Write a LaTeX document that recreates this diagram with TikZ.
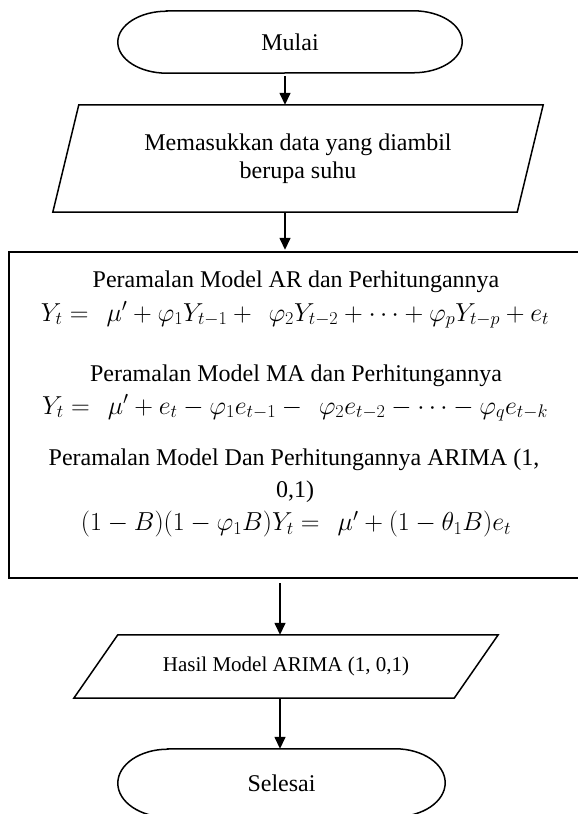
\RequirePackage{fix-cm}
\documentclass[tikz,border=0pt]{standalone}
\usepackage{fontspec}
\setmainfont{Liberation Serif}
\usetikzlibrary{arrows.meta}
\begin{document}
\begin{tikzpicture}[x=1pt,y=1pt,
  shapeline/.style={line width=1.5pt},
  boxline/.style={line width=2.4pt},
  arr/.style={line width=1.5pt,-{Triangle[length=12pt,width=11pt]}},
  holder/.style={draw=none,inner sep=0pt,font=\fontsize{24}{28}\selectfont},
  txt/.style={inner sep=0pt,font=\fontsize{24}{28}\selectfont},
  frm/.style={inner sep=0pt,font=\fontsize{26}{30}\selectfont},
  smalltxt/.style={inner sep=0pt,font=\fontsize{21}{25}\selectfont}]
\useasboundingbox (0,0) rectangle (578,814);
\coordinate (axisa) at (285,0);
\coordinate (axisb) at (280,0);
% terminal: Mulai
\node[holder,minimum width=344pt,minimum height=62pt] (mulai) at (290,772) {Mulai};
\draw[shapeline] ([xshift=49pt]mulai.north west) -- ([xshift=-49pt]mulai.north east)
  arc[start angle=90,end angle=-90,x radius=49pt,y radius=31pt]
  -- ([xshift=49pt]mulai.south west)
  arc[start angle=270,end angle=90,x radius=49pt,y radius=31pt] -- cycle;
% input parallelogram
\node[holder,minimum width=490pt,minimum height=107pt,align=center] (input) at (298,655.5)
  {Memasukkan data yang diambil\\berupa suhu};
\draw[shapeline] ([xshift=26pt]input.north west) -- (input.north east)
  -- ([xshift=-26pt]input.south east) -- (input.south west) -- cycle;
% process box
\node[draw,boxline,minimum width=573pt,minimum height=326pt,inner sep=0pt] (proc) at (295.5,399) {};
\node[txt] (t1) at (296,532) {Peramalan Model AR dan Perhitungannya};
\node[frm] (f1) at (295,499) {$Y_t =\,\ \mu' + \varphi_1 Y_{t-1} +\,\ \varphi_2 Y_{t-2} + \cdots + \varphi_p Y_{t-p} + e_t$};
\node[txt] (t2) at (296,438) {Peramalan Model MA dan Perhitungannya};
\node[frm] (f2) at (295,406) {$Y_t =\,\ \mu' + e_t - \varphi_1 e_{t-1} -\,\ \varphi_2 e_{t-2} - \cdots - \varphi_q e_{t-k}$};
\node[txt] (t3) at (294,354) {Peramalan Model Dan Perhitungannya ARIMA (1,};
\node[txt] (t4) at (295,322) {0,1)};
\node[frm] (f3) at (296,290) {$(1-B)(1-\varphi_1 B)Y_t =\,\ \mu' + (1-\theta_1 B)e_t$};
% output parallelogram
\node[draw=none,inner sep=0pt,smalltxt,minimum width=424pt,minimum height=63pt] (hasil) at (286,147.5) {Hasil Model ARIMA (1, 0,1)};
\draw[shapeline] ([xshift=44pt]hasil.north west) -- (hasil.north east)
  -- ([xshift=-44pt]hasil.south east) -- (hasil.south west) -- cycle;
% terminal: Selesai
\node[holder,minimum width=327pt,minimum height=68pt] (selesai) at (281.5,31) {Selesai};
\draw[shapeline] ([xshift=50pt]selesai.north west) -- ([xshift=-50pt]selesai.north east)
  arc[start angle=90,end angle=-90,x radius=50pt,y radius=34pt]
  -- ([xshift=50pt]selesai.south west)
  arc[start angle=270,end angle=90,x radius=50pt,y radius=34pt] -- cycle;
% connectors
\draw[arr] ([yshift=-3pt]mulai.south -| axisa) -- (input.north -| axisa);
\draw[arr] (input.south -| axisa) -- ([yshift=1pt]proc.north -| axisa);
\draw[arr] ([yshift=-4pt]proc.south -| axisb) -- (hasil.north -| axisb);
\draw[arr] (hasil.south -| axisb) -- (selesai.north -| axisb);
\end{tikzpicture}
\end{document}
